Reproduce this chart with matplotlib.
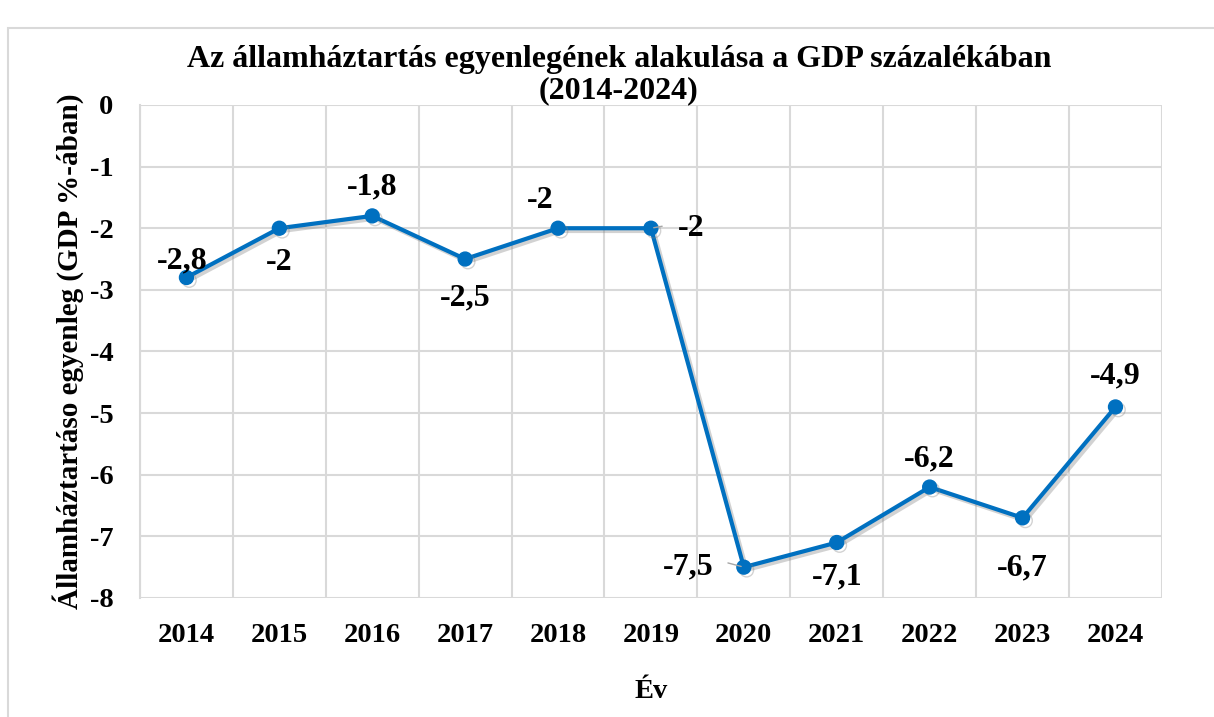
import numpy as np
import matplotlib
matplotlib.use('Agg')
import matplotlib.pyplot as plt
import matplotlib.patheffects as pe
from matplotlib.patches import Rectangle

# Adatok
evek = ['2014', '2015', '2016', '2017', '2018', '2019', '2020', '2021', '2022', '2023', '2024']
egyenleg = [-2.8, -2.0, -1.8, -2.5, -2.0, -2.0, -7.5, -7.1, -6.2, -6.7, -4.9]
cimkek = ['-2,8', '-2', '-1,8', '-2,5', '-2', '-2', '-7,5', '-7,1', '-6,2', '-6,7', '-4,9']

# címke eltolások (pont)
eltolas = [(-3, 12), (0, -25), (0, 21), (0, -28), (-13, 20), (29, 0),
           (-40, 0), (0, -25), (0, 20), (0, -36), (0, 22)]

plt.rcParams['font.family'] = ['Liberation Serif', 'DejaVu Serif']
plt.rcParams['font.weight'] = 'bold'

fig = plt.figure(figsize=(12.14, 7.17), dpi=100)
ax = fig.add_axes([0.1153, 0.166, 0.8418, 0.6876])

# külső keret
fig.patches.append(Rectangle((8 / 1214, -0.05), 1.1, 1 - 28 / 717 + 0.05,
                             transform=fig.transFigure, fill=False,
                             edgecolor='#d9d9d9', linewidth=1.5))

x = np.arange(len(evek))
ax.plot(x, egyenleg, color='#0070C0', linewidth=3, marker='o', markersize=10,
        zorder=3,
        path_effects=[pe.SimpleLineShadow(offset=(2, -2), shadow_color='gray', alpha=0.35),
                      pe.Normal()])

for i, (v, c) in enumerate(zip(egyenleg, cimkek)):
    ax.annotate(c, (i, v), xytext=eltolas[i], textcoords='offset points',
                ha='center', va='center', fontsize=23, fontweight='bold')

# vezető vonalak
ax.annotate('', (5, -2.0), xytext=(5.15, -1.96), arrowprops=dict(arrowstyle='-', color='#a6a6a6', lw=1))
ax.annotate('', (6, -7.5), xytext=(5.8, -7.42), arrowprops=dict(arrowstyle='-', color='#a6a6a6', lw=1))

ax.set_xlim(-0.5, len(evek) - 0.5)
ax.set_ylim(-8, 0)
ax.set_yticks(np.arange(-8, 1, 1))
ax.set_yticklabels([str(t) for t in range(-8, 1)])
ax.set_xticks(x)
ax.set_xticklabels(evek)
ax.set_xticks(np.arange(-0.5, len(evek), 1), minor=True)

ax.grid(True, which='major', axis='y', color='#d9d9d9', linewidth=1.5)
ax.grid(True, which='minor', axis='x', color='#d9d9d9', linewidth=1.5)
ax.set_axisbelow(True)
for s in ['top', 'right', 'bottom']:
    ax.spines[s].set_visible(False)
ax.spines['left'].set_color('#d9d9d9')
ax.spines['left'].set_linewidth(1.5)
ax.tick_params(which='both', length=0)
ax.tick_params(axis='x', labelsize=20.5, pad=18)
ax.tick_params(axis='y', labelsize=20.5, pad=19)

ax.set_title('Az államháztartás egyenlegének alakulása a GDP százalékában\n(2014-2024)',
             fontsize=23, fontweight='bold', pad=4, linespacing=1.1, x=0.4687)
ax.set_xlabel('Év', fontsize=20.5, fontweight='bold', labelpad=22)
ax.set_ylabel('Államháztartáso egyenleg (GDP %-ában)', fontsize=21, fontweight='bold', labelpad=4)

plt.savefig('out.png', dpi=100)
